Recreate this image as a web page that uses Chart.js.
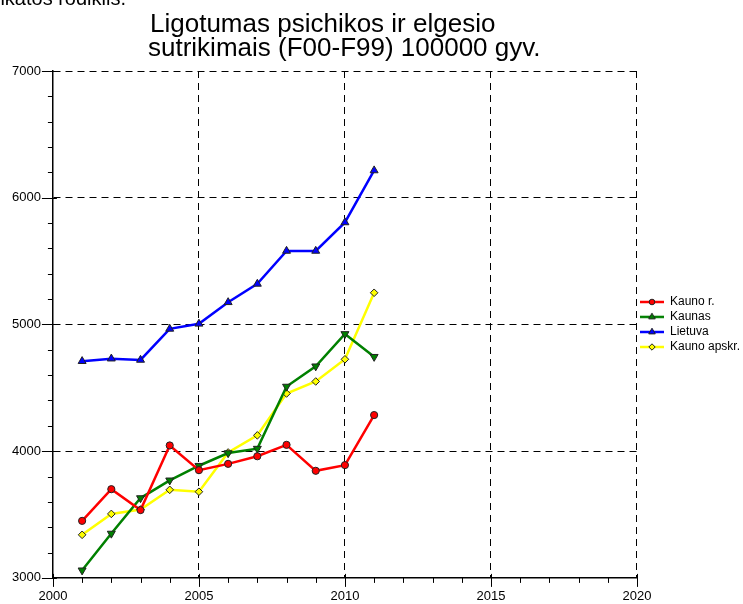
<!DOCTYPE html>
<html>
<head>
<meta charset="utf-8">
<script src="https://cdn.jsdelivr.net/npm/chart.js@4/dist/chart.umd.min.js"></script>
<style>
  html, body { margin: 0; padding: 0; background: #fff; }
  canvas { display: block; }
</style>
</head>
<body>
<canvas id="c" width="743" height="604"></canvas>
<script>
// Years on the horizontal axis
const years = [2001, 2002, 2003, 2004, 2005, 2006, 2007, 2008, 2009, 2010, 2011];

// Morbidity of mental and behavioural disorders per 100000 population
const kaunoR  = [3450, 3700, 3535, 4045, 3850, 3900, 3960, 4050, 3845, 3890, 4285];
const kaunas  = [3060, 3350, 3630, 3770, 3885, 3985, 4020, 4510, 4670, 4925, 4745];
const lietuva = [4710, 4730, 4720, 4965, 5005, 5175, 5320, 5580, 5580, 5805, 6215];
const apskr   = [3340, 3505, 3540, 3695, 3680, 3990, 4125, 4455, 4550, 4725, 5250];

const seriesNames = ['Kauno r.', 'Kaunas', 'Lietuva', 'Kauno apskr.'];

// Labelled ticks
const xTickLabels = [2000, 2005, 2010, 2015, 2020];
const yTickLabels = [3000, 4000, 5000, 6000, 7000];
const xMinorStep = 1;
const yMinorStep = 200;

const titleLines = ['Ligotumas psichikos ir elgesio', 'sutrikimais (F00-F99) 100000 gyv.'];
const headerText = 'Sveikatos rodiklis.';

const FONT = '"Liberation Sans", Arial, sans-serif';

const styles = [
  { color: '#ff0000', point: 'circle',   rotation: 0,   radius: 3.6 },
  { color: '#008000', point: 'triangle', rotation: 180, radius: 4.6 },
  { color: '#0000ff', point: 'triangle', rotation: 0,   radius: 4.6 },
  { color: '#ffff00', point: 'rectRot',  rotation: 0,   radius: 3.8 }
];
const seriesValues = [kaunoR, kaunas, lietuva, apskr];

// Small line+marker swatches for the legend
function makeSwatch(st) {
  const c = document.createElement('canvas');
  c.width = 24; c.height = 12;
  const g = c.getContext('2d');
  g.strokeStyle = st.color;
  g.lineWidth = 2.5;
  g.beginPath(); g.moveTo(0, 6); g.lineTo(24, 6); g.stroke();
  g.fillStyle = st.color;
  g.strokeStyle = '#222';
  g.lineWidth = 1;
  g.beginPath();
  const cx = 12, cy = 6;
  if (st.point === 'circle') {
    g.arc(cx, cy, 2.8, 0, Math.PI * 2);
  } else if (st.point === 'triangle') {
    const r = 3.8, s = st.rotation === 180 ? -1 : 1;
    g.moveTo(cx, cy - s * r);
    g.lineTo(cx + r * 0.866, cy + s * r * 0.5);
    g.lineTo(cx - r * 0.866, cy + s * r * 0.5);
    g.closePath();
  } else {
    const r = 3.2;
    g.moveTo(cx, cy - r); g.lineTo(cx + r, cy); g.lineTo(cx, cy + r); g.lineTo(cx - r, cy);
    g.closePath();
  }
  g.fill(); g.stroke();
  return c;
}
const swatches = styles.map(makeSwatch);

// Tick marks on the axes (major and minor)
const axisTicks = {
  id: 'axisTicks',
  afterDraw(chart) {
    const { ctx, chartArea, scales: { x, y } } = chart;
    ctx.save();
    ctx.strokeStyle = '#000';
    ctx.lineWidth = 1;
    ctx.beginPath();
    const left = chartArea.left;
    for (let v = y.min; v <= y.max + 0.001; v += yMinorStep) {
      const py = Math.round(y.getPixelForValue(v)) + 0.5;
      const major = yTickLabels.includes(v);
      ctx.moveTo(left - (major ? 11 : 5), py);
      ctx.lineTo(left + (major ? 4 : 0), py);
    }
    const bottom = chartArea.bottom;
    for (let v = x.min; v <= x.max + 0.001; v += xMinorStep) {
      const px = Math.round(x.getPixelForValue(v)) + 0.5;
      const major = xTickLabels.includes(v);
      ctx.moveTo(px, bottom - (major ? 4 : 0));
      ctx.lineTo(px, bottom + (major ? 9 : 5));
    }
    ctx.stroke();
    ctx.restore();
  }
};

// Heading text above the plot
const headings = {
  id: 'headings',
  afterDraw(chart) {
    const ctx = chart.ctx;
    ctx.save();
    ctx.fillStyle = '#000';
    ctx.textBaseline = 'alphabetic';
    ctx.font = '20px ' + FONT;
    ctx.textAlign = 'right';
    ctx.fillText(headerText, 126, 5);
    ctx.textAlign = 'left';
    ctx.font = '26px ' + FONT;
    ctx.fillText(titleLines[0], 150, 32);
    ctx.fillText(titleLines[1], 148, 56);
    ctx.restore();
  }
};

const datasets = seriesNames.map((name, i) => ({
  label: name,
  data: years.map((yr, k) => ({ x: yr, y: seriesValues[i][k] })),
  borderColor: styles[i].color,
  backgroundColor: styles[i].color,
  borderWidth: 2.5,
  pointStyle: styles[i].point,
  rotation: styles[i].rotation,
  pointRadius: styles[i].radius,
  pointBackgroundColor: styles[i].color,
  pointBorderColor: '#222',
  pointBorderWidth: 1,
  tension: 0,
  fill: false
}));

const gridColor = (edge) => (c) => (c.tick && c.tick.value === edge) ? 'rgba(0,0,0,0)' : '#000';

new Chart(document.getElementById('c'), {
  type: 'line',
  data: { datasets },
  plugins: [axisTicks, headings],
  options: {
    responsive: false,
    animation: false,
    events: [],
    layout: { padding: { left: 0, top: 71, right: -7, bottom: -11.5 } },
    plugins: {
      tooltip: { enabled: false },
      title: { display: false },
      legend: {
        position: 'right',
        align: 'center',
        fullSize: false,
        labels: {
          usePointStyle: true,
          pointStyleWidth: 24,
          boxHeight: 12,
          padding: 3,
          color: '#000',
          font: { family: FONT, size: 12 },
          generateLabels(chart) {
            const items = Chart.defaults.plugins.legend.labels.generateLabels(chart);
            items.forEach((it, i) => { it.pointStyle = swatches[i]; });
            return items;
          }
        }
      }
    },
    scales: {
      x: {
        type: 'linear',
        min: 2000,
        max: 2020,
        afterBuildTicks: (s) => { s.ticks = xTickLabels.map(v => ({ value: v })); },
        ticks: {
          color: '#000',
          font: { family: FONT, size: 13 },
          padding: 11,
          maxRotation: 0,
          autoSkip: false,
          callback: (v) => String(v)
        },
        grid: { drawTicks: false, color: gridColor(2000), lineWidth: 1 },
        border: { display: true, color: '#000', width: 1.5, dash: [7, 5] }
      },
      y: {
        type: 'linear',
        min: 3000,
        max: 7000,
        afterBuildTicks: (s) => { s.ticks = yTickLabels.map(v => ({ value: v })); },
        ticks: {
          color: '#000',
          font: { family: FONT, size: 13 },
          padding: 12,
          autoSkip: false,
          callback: (v) => String(v)
        },
        grid: { drawTicks: false, color: gridColor(3000), lineWidth: 1 },
        border: { display: true, color: '#000', width: 1.5, dash: [7, 5] }
      }
    }
  }
});
</script>
</body>
</html>
